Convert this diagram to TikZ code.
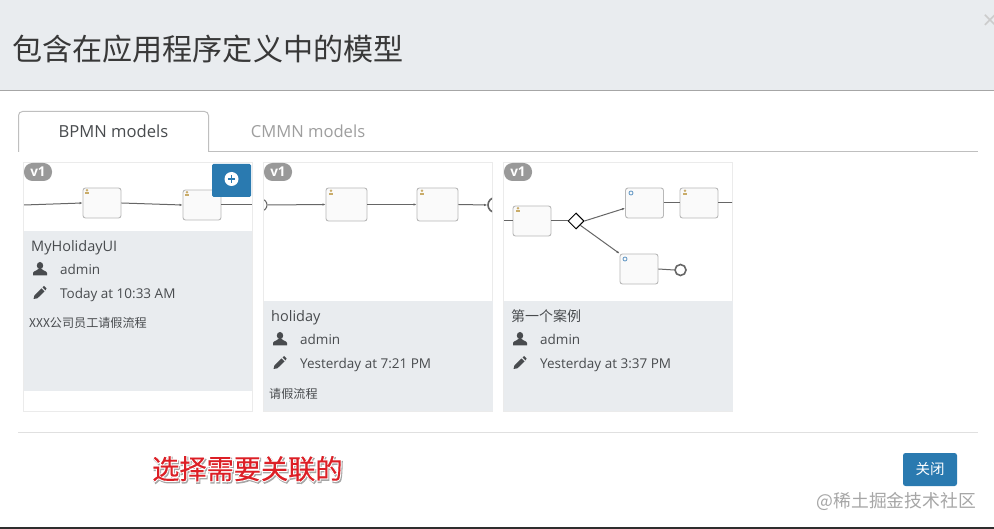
\documentclass[tikz,border=0pt]{standalone}
\usepackage{fontspec}
\setmainfont{Open Sans}
\newfontfamily\cjk{Noto Sans CJK SC}
\newfontfamily\cjkheavy[FakeBold=0.3]{Noto Sans CJK SC}
\newfontfamily\cjkhalo[FakeBold=8]{Noto Sans CJK SC}
\usetikzlibrary{arrows.meta,shapes.geometric}
\definecolor{panel}{HTML}{E9ECEF}
\definecolor{ink}{HTML}{484B4E}
\definecolor{flow}{HTML}{666666}
\definecolor{btn}{HTML}{2A7AB0}
\definecolor{edge}{HTML}{EBEBEB}
\definecolor{taskline}{HTML}{B8B8B8}
\definecolor{tan}{HTML}{C9AC6A}
\definecolor{ring}{HTML}{6E9FC8}
\definecolor{note}{HTML}{DC1F26}
\tikzset{
  txt/.style={anchor=base west,inner sep=0pt,text=ink,font=\fontsize{13.5}{16}\selectfont},
  ttl/.style={txt,font=\fontsize{14.5}{17}\selectfont},
  cjksmall/.style={anchor=base west,inner sep=0pt,text=ink,font=\cjk\fontsize{12.1}{14}\selectfont},
  badge/.style={fill=black!40,rounded corners=8.5pt,minimum width=28pt,minimum height=18pt,inner sep=0pt,text=white,font=\bfseries\fontsize{13.5}{14}\selectfont},
  taskbox/.style={draw=taskline,fill=black!2,line width=.9pt,rounded corners=2.5pt,inner sep=0pt,minimum width=38pt,minimum height=30pt},
  flowline/.style={draw=flow,line width=1pt,-{Latex[length=3pt,width=2.5pt]}},
  plainline/.style={draw=flow,line width=1pt},
  usericon/.pic={\fill[#1] (0,-3.4) ellipse (3.2pt and 3.6pt);
    \fill[#1] (-7,6.5) -- (-7,4) .. controls (-7,2) and (-2.5,1.8) .. (-2,0) -- (2,0) .. controls (2.5,1.8) and (7,2) .. (7,4) -- (7,6.5) -- cycle;},
  pencilicon/.pic={\fill[#1] (-6.5,6.5) -- (-5.6,3) -- (1.5,-4) -- (4.5,-1) -- (-2.6,5.8) -- cycle;
    \fill[#1] (2.5,-5) -- (4,-6.5) -- (6.5,-4) -- (5.5,-2) -- cycle;},
  tinyuser/.pic={\fill[tan] (0,-1.8) circle (1.4pt); \fill[tan] (-2.4,2.4) rectangle (2.4,.1);},
  tinyring/.pic={\draw[ring,line width=.9pt] (0,0) circle (2pt);}
}
\begin{document}
\begin{tikzpicture}[x=1pt,y=-1pt]
\useasboundingbox (0,0) rectangle (994,529);
\fill[white] (0,0) rectangle (994,529);
% header
\fill[panel] (0,0) rectangle (994,90);
\draw[black!35,line width=1pt] (0,90.5) -- (994,90.5);
\node[anchor=base west,inner sep=0pt,text=black!78,font=\cjk\fontsize{30.1}{36}\selectfont] (title) at (12,61) {包含在应用程序定义中的模型};
\node[inner sep=0pt,text=black!20,font=\fontsize{26}{26}\selectfont] (closex) at (990,22) {×};
% tabs
\draw[black!25,line width=1pt] (209,152) -- (978,152);
\draw[black!25,line width=1pt,fill=white,rounded corners=4pt] (18.5,152) -- (18.5,111.5) -- (208.5,111.5) -- (208.5,152);
\node[inner sep=0pt,text=ink,font=\fontsize{16.6}{18}\selectfont] (tab1) at (113.5,131.5) {BPMN models};
\node[inner sep=0pt,text=black!38,font=\fontsize{16.6}{18}\selectfont] (tab2) at (308,131.5) {CMMN models};
% card 1
\draw[edge,fill=white] (23.5,162.5) rectangle (252.5,411);
\fill[panel] (24,231) rectangle (252,391);
\begin{scope}
\clip (24,163) rectangle (252,231);
\node[taskbox] (a1) at (102,203) {};
\node[taskbox] (a2) at (202,205) {};
\coordinate (as) at (24,205);
\coordinate (ae) at (252,205);
\draw[flowline] (as) -- (a1.west);
\draw[flowline] (a1.east) -- (a2.west);
\draw[plainline] (a2.east) -- (ae);
\pic at (87,192) {tinyuser};
\pic at (187,194) {tinyuser};
\end{scope}
\node[badge] (b1) at (38,172) {v1};
\node[fill=btn,rounded corners=1.5pt,minimum width=39pt,minimum height=33pt,inner sep=0pt] (add) at (231.5,180.5) {};
\fill[white] (add.center) ++(0,-1.5) circle (7pt);
\draw[btn,line width=1.7pt] (227.8,179) -- (235.2,179) (231.5,175.3) -- (231.5,182.7);
\node[ttl] (n1) at (31,252) {MyHolidayUI};
\pic at (40,269) {usericon=ink};
\node[txt] (u1) at (60,274.5) {admin};
\pic at (40,292.5) {pencilicon=ink};
\node[txt] (d1) at (60,298.5) {Today at 10:33 AM};
\node[cjksmall] (x1) at (29,328) {XXX公司员工请假流程};
% card 2
\draw[edge,fill=white] (263.5,162.5) rectangle (492.5,411);
\fill[panel] (264,301) rectangle (493,411);
\begin{scope}
\clip (264,163) rectangle (492,301);
\node[taskbox,minimum width=41pt,minimum height=33pt] (c1) at (346.5,204.5) {};
\node[taskbox,minimum width=41pt,minimum height=33pt] (c2) at (437.5,204.5) {};
\node[draw=flow,circle,line width=1pt,minimum size=12pt,inner sep=0pt] (cs) at (261,205) {};
\node[draw=flow,circle,line width=1.6pt,minimum size=15pt,inner sep=0pt] (ce) at (495.5,205) {};
\draw[flowline] (cs.east) -- (c1.west);
\draw[flowline] (c1.east) -- (c2.west);
\draw[flowline] (c2.east) -- (ce.west);
\pic at (331,192.5) {tinyuser};
\pic at (422,192.5) {tinyuser};
\end{scope}
\node[badge] (b2) at (278,172) {v1};
\node[ttl] (n2) at (271,322) {holiday};
\pic at (280,339) {usericon=ink};
\node[txt] (u2) at (300,344.5) {admin};
\pic at (280,362.5) {pencilicon=ink};
\node[txt] (d2) at (300,368.5) {Yesterday at 7:21 PM};
\node[cjksmall] (x2) at (269,399) {请假流程};
% card 3
\draw[edge,fill=white] (503.5,162.5) rectangle (732.5,411);
\fill[panel] (504,301) rectangle (733,411);
\begin{scope}
\clip (504,163) rectangle (732,301);
\node[taskbox] (tA) at (532,221) {};
\node[taskbox] (tB) at (644.5,203) {};
\node[taskbox] (tC) at (699,203) {};
\node[taskbox] (tD) at (639,269) {};
\node[draw=black,fill=white,diamond,line width=1pt,minimum size=16pt,inner sep=0pt,aspect=1] (gw) at (576,221) {};
\node[draw=flow,circle,line width=1.6pt,minimum size=11pt,inner sep=0pt] (end) at (680.5,270) {};
\coordinate (ds) at (504,221);
\coordinate (de) at (733,203);
\draw[plainline] (ds) -- (tA.west);
\draw[plainline] (tA.east) -- (gw.west);
\draw[flowline] (gw.east) -- (tB.195);
\draw[plainline] (tB.east) -- (tC.west);
\draw[plainline] (tC.east) -- (de);
\draw[flowline] (gw.south east) -- (tD.north west);
\draw[plainline] (tD.east) -- (end.west);
\pic at (518,210) {tinyuser};
\pic at (685,192.5) {tinyuser};
\pic at (631,193) {tinyring};
\pic at (625,259) {tinyring};
\end{scope}
\node[badge] (b3) at (518,172) {v1};
\node[anchor=base west,inner sep=0pt,text=ink,font=\cjk\fontsize{14}{17}\selectfont] (n3) at (511,322) {第一个案例};
\pic at (520,339) {usericon=ink};
\node[txt] (u3) at (540,344.5) {admin};
\pic at (520,362.5) {pencilicon=ink};
\node[txt] (d3) at (540,368.5) {Yesterday at 3:37 PM};
% footer
\draw[black!12,line width=1pt] (18,432.5) -- (978,432.5);
\node[anchor=base west,inner sep=0pt,text=black!35,font=\cjkhalo\fontsize{27.2}{30}\selectfont] (noteshadow) at (153,480.5) {选择需要关联的};
\node[anchor=base west,inner sep=0pt,text=white,font=\cjkhalo\fontsize{27.2}{30}\selectfont] (notehalo) at (152,479) {选择需要关联的};
\node[anchor=base west,inner sep=0pt,text=note,font=\cjkheavy\fontsize{27.2}{30}\selectfont] (notetext) at (152,479) {选择需要关联的};
\node[fill=btn,rounded corners=2.5pt,minimum width=54pt,minimum height=33pt,inner sep=0pt,text=white,font=\cjk\fontsize{14.5}{17}\selectfont] (close) at (930,469.5) {关闭};
\node[anchor=base east,inner sep=0pt,text=black!35,font=\cjk\fontsize{17.8}{20}\selectfont] (mark) at (976,507) {@稀土掘金技术社区};
\fill[black!82] (0,527) rectangle (994,529);
\end{tikzpicture}
\end{document}
